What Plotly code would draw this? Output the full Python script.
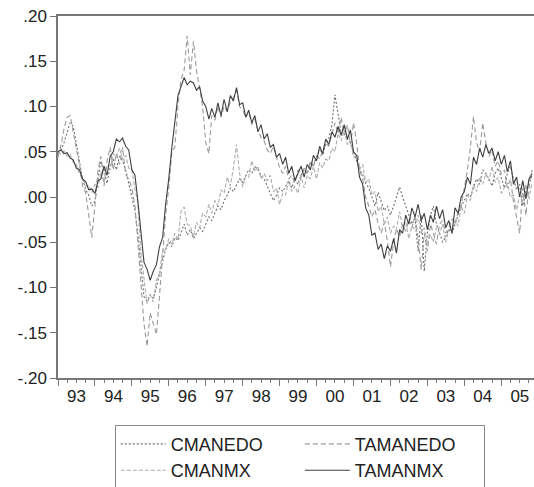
import plotly.graph_objects as go
import pandas as pd

months = pd.date_range("1993-01-01", periods=155, freq="MS")

cmanedo = [
    .048, .052, .060, .070, .082, .078, .060, .042, .020, .008, .002, -.010,
    -.005, .020, .040, .030, .015, .035, .042, .030, .045, .040, .030, .015,
    .000, -.015, -.040, -.080, -.110, -.115, -.108, -.112, -.100, -.085, -.070, -.058,
    -.050, -.055, -.045, -.048, -.040, -.030, -.042, -.036, -.046, -.040, -.034, -.038,
    -.030, -.022, -.026, -.018, -.010, -.014, -.004, .002, .010, .006, .014, .020,
    .016, .024, .030, .026, .034, .030, .024, .020, .012, .006, -.004, .002,
    .010, .006, .012, .018, .010, .020, .014, .024, .030, .026, .038, .034,
    .044, .052, .046, .058, .064, .080, .113, .090, .070, .078, .064, .060,
    .050, .040, .030, .025, .015, .010, .000, -.010, .005, -.005, -.015, -.010,
    -.020, -.010, .000, .011, .000, -.010, -.020, -.030, -.024, -.060, -.020, -.082,
    -.040, -.020, -.010, -.030, -.040, -.050, -.044, -.036, -.040, -.030, -.020, -.010,
    -.004, .004, .000, .010, .020, .014, .030, .026, .020, .012, .026, .032,
    .020, .010, .026, .034, .020, .008, .014, -.010, .006, .016, .024,
]

tamanedo = [
    .044, .058, .075, .088, .090, .072, .055, .035, .012, .005, -.020, -.045,
    -.010, .030, .045, .012, .040, .055, .030, .048, .036, .055, .025, .020,
    .010, -.010, -.050, -.100, -.140, -.165, -.128, -.140, -.152, -.110, -.060, -.020,
    .010, .050, .055, .100, .130, .140, .178, .135, .172, .140, .120, .100,
    .060, .048, .090, .085, .100, .088, .100, .095, .105, .110, .118, .100,
    .096, .088, .094, .080, .086, .074, .066, .062, .052, .048, .056, .044,
    .032, .026, .034, .020, .024, .016, .030, .022, .032, .026, .040, .034,
    .046, .042, .050, .060, .056, .070, .082, .070, .088, .068, .080, .058,
    .082, .060, .030, .020, .000, -.010, -.022, -.014, -.030, -.040, -.028, -.048,
    -.077, -.050, -.035, -.044, -.030, -.038, -.025, -.034, -.020, -.045, -.080, -.040,
    -.060, -.030, -.040, -.052, -.030, -.026, -.040, -.034, -.024, -.030, -.016, -.010,
    .010, .030, .055, .089, .060, .050, .082, .060, .045, .052, .034, .040,
    .025, .030, .010, .020, -.005, -.025, -.040, .010, -.020, .010, .030,
]

cmanmx = [
    .050, .047, .051, .045, .047, .038, .036, .025, .022, .012, .013, .005,
    .014, .010, .028, .016, .034, .030, .048, .044, .054, .042, .046, .032,
    .030, .008, -.006, -.062, -.090, -.118, -.108, -.116, -.092, -.084, -.060, -.058,
    -.046, -.052, -.040, -.047, -.016, -.011, -.030, -.032, -.044, -.028, -.034, -.018,
    -.022, -.008, -.018, -.004, -.010, .008, .004, .022, .012, .032, .058, .026,
    .011, .024, .022, .040, .028, .034, .020, .026, .018, .024, .006, .010,
    -.008, .004, .002, .018, .006, .012, .004, .022, .010, .024, .020, .034,
    .020, .038, .032, .042, .040, .054, .050, .070, .062, .074, .058, .062,
    .044, .046, .030, .036, .016, .020, .002, .006, -.016, -.010, -.030, -.022,
    -.040, -.032, -.036, -.016, -.034, -.028, -.046, -.032, -.036, -.020, -.040, -.034,
    -.052, -.042, -.050, -.034, -.040, -.030, -.050, -.036, -.036, -.026, -.032, -.010,
    -.018, .002, -.004, .014, .006, .022, .014, .026, .018, .034, .016, .022,
    .004, .010, .016, .000, .002, -.014, .002, -.006, .014, -.002, .016,
]

tamanmx = [
    .050, .052, .048, .049, .043, .041, .032, .030, .020, .017, .008, .009,
    .004, .018, .020, .034, .024, .045, .050, .064, .061, .065, .056, .052,
    .030, .024, -.004, -.038, -.072, -.080, -.092, -.082, -.075, -.055, -.045, -.008,
    .020, .055, .080, .112, .122, .132, .124, .128, .126, .118, .122, .106,
    .100, .086, .098, .088, .104, .090, .108, .094, .112, .106, .121, .102,
    .104, .088, .096, .082, .090, .072, .080, .064, .070, .055, .058, .044,
    .048, .036, .044, .026, .034, .018, .026, .034, .022, .036, .030, .046,
    .040, .056, .048, .064, .058, .072, .066, .078, .068, .080, .064, .074,
    .050, .046, .022, .014, -.012, -.020, -.042, -.040, -.058, -.052, -.068, -.054,
    -.060, -.046, -.062, -.036, -.040, -.020, -.030, -.012, -.022, -.008, -.026, -.018,
    -.036, -.020, -.028, -.010, -.024, -.014, -.034, -.026, -.040, -.012, -.018, .000,
    .006, .022, .014, .044, .036, .054, .044, .058, .048, .054, .040, .050,
    .036, .046, .028, .040, .014, .022, .000, .018, -.002, .020, .026,
]

y_ticks = [0.20, 0.15, 0.10, 0.05, 0.00, -0.05, -0.10, -0.15, -0.20]
y_ticktext = [".20", ".15", ".10", ".05", ".00", "-.05", "-.10", "-.15", "-.20"]

series = [
    ("CMANEDO", cmanedo, "#6e6e6e", "2px,2px"),
    ("TAMANEDO", tamanedo, "#9a9a9a", "5px,3px"),
    ("CMANMX", cmanmx, "#adadad", "4px,2px"),
    ("TAMANMX", tamanmx, "#3f3f3f", "solid"),
]

fig = go.Figure()
for name, vals, color, dash in series:
    fig.add_trace(go.Scatter(
        x=months, y=vals, mode="lines", name=name,
        line=dict(color=color, width=1.1, dash=dash),
    ))

axis_col = "#777777"
fig.update_layout(
    width=534, height=487,
    margin=dict(l=58, r=0, t=16, b=109),
    paper_bgcolor="white", plot_bgcolor="white",
    font=dict(family="Liberation Sans, Arial, sans-serif", size=17, color="#222222"),
    showlegend=True,
    legend=dict(
        orientation="h", xref="container", yref="container",
        x=0.215, xanchor="left", y=0.128, yanchor="top",
        bordercolor="#888888", borderwidth=1, bgcolor="white",
        entrywidth=124, itemwidth=45, font=dict(size=18), tracegroupgap=0,
    ),
)
fig.update_xaxes(
    range=["1993-01-01", "2005-11-20"], automargin=False,
    showgrid=False, zeroline=False,
    showline=True, linecolor=axis_col, linewidth=1.5, mirror=True,
    ticks="outside", ticklen=6, tickcolor=axis_col, tickwidth=1,
    dtick="M12", tick0="1993-01-01", tickformat="%y", ticklabelmode="period",
    ticklabelstandoff=-4,
    minor=dict(ticks="outside", ticklen=3, dtick="M3", tickcolor=axis_col, showgrid=False),
)
fig.update_yaxes(
    range=[-0.20, 0.20], automargin=False,
    showgrid=False, zeroline=False,
    showline=True, linecolor=axis_col, linewidth=1.5, mirror=True,
    ticks="outside", ticklen=6, tickcolor=axis_col, tickwidth=1,
    tickvals=y_ticks, ticktext=y_ticktext,
)

fig.write_html(
    "out.html",
    config={"displayModeBar": False},
    post_script="document.body.style.margin='0';document.body.style.overflow='hidden';",
)
